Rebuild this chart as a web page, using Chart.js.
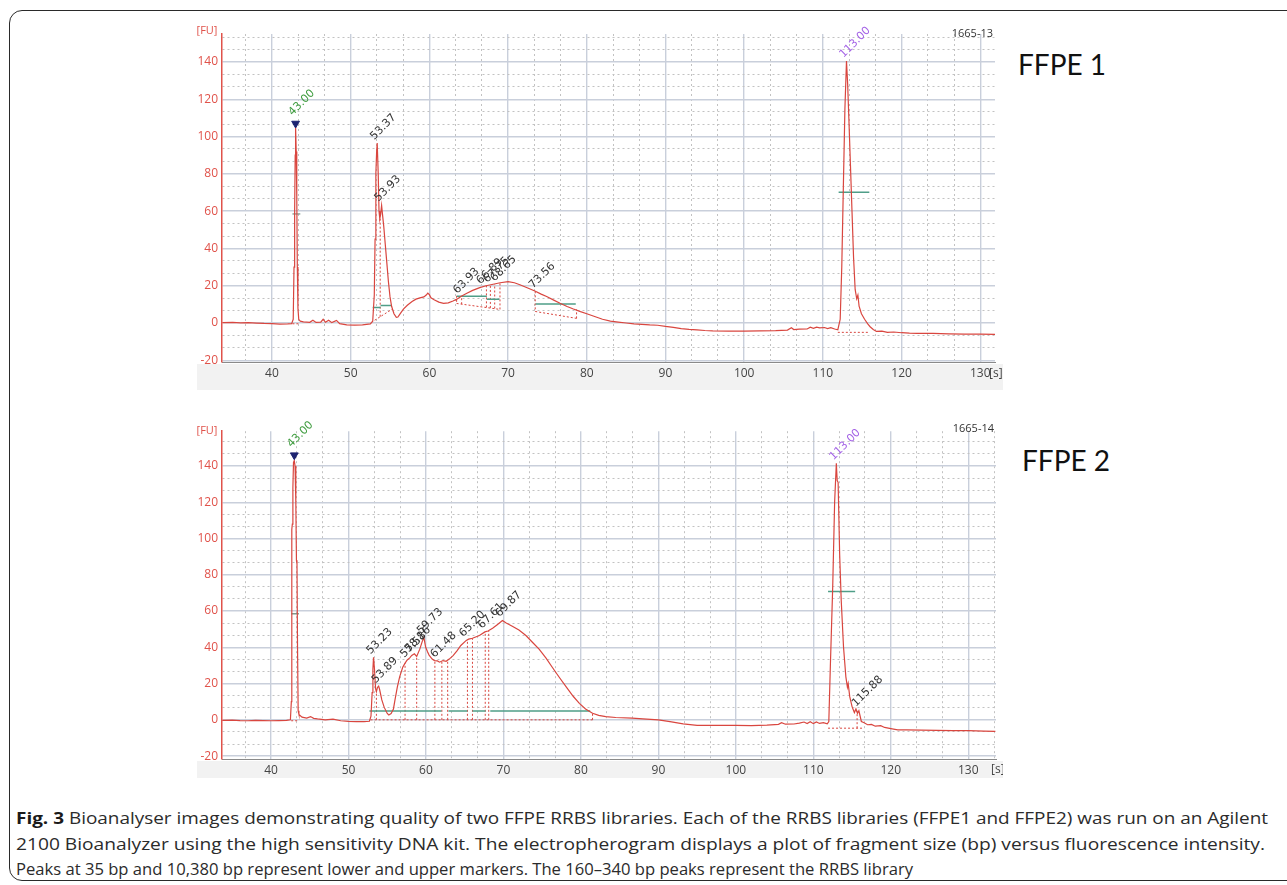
<!DOCTYPE html>
<html><head><meta charset="utf-8">
<script src="https://cdn.jsdelivr.net/npm/chart.js@4/dist/chart.umd.min.js"></script>
<style>
html,body{margin:0;padding:0;background:#fff;width:1287px;height:885px;overflow:hidden;font-family:"Open Sans",sans-serif;}
#frame{position:absolute;left:9px;top:10px;width:1330px;height:871px;border:1.5px solid #2a2a2a;border-radius:13px;box-sizing:border-box;}
.cw{position:absolute;}
#c1w{left:197px;top:22px;width:806px;height:368px;}
#c2w{left:197px;top:420px;width:806px;height:358px;}
.ffpe{position:absolute;font-family:Lato,"Open Sans",sans-serif;font-size:28px;color:#111;line-height:normal;white-space:nowrap;}
.cap{position:absolute;left:16px;font-family:"Open Sans",sans-serif;font-size:16px;line-height:20px;color:#2b2b2b;white-space:nowrap;transform-origin:0 50%;}
.cap b{color:#1a1a1a;}
</style></head>
<body>
<div id="frame"></div>
<div class="cw" id="c1w"><canvas id="c1" width="806" height="368"></canvas></div>
<div class="cw" id="c2w"><canvas id="c2" width="806" height="358"></canvas></div>
<div class="ffpe" style="left:1018px;top:47px;">FFPE 1</div>
<div class="ffpe" style="left:1022px;top:443px;">FFPE 2</div>
<div class="cap" id="cap1" data-w="1252" style="top:808px;"><b>Fig. 3</b> Bioanalyser images demonstrating quality of two FFPE RRBS libraries. Each of the RRBS libraries (FFPE1 and FFPE2) was run on an Agilent</div>
<div class="cap" id="cap2" data-w="1249" style="top:834px;">2100 Bioanalyzer using the high sensitivity DNA kit. The electropherogram displays a plot of fragment size (bp) versus fluorescence intensity.</div>
<div class="cap" id="cap3" data-w="897" style="top:859px;">Peaks at 35 bp and 10,380 bp represent lower and upper markers. The 160–340 bp peaks represent the RRBS library</div>
<script>
// ---------- DATA ----------
const xTickLabels = [40, 50, 60, 70, 80, 90, 100, 110, 120, 130];
const yTickLabels = [-20, 0, 20, 40, 60, 80, 100, 120, 140];

// FFPE 1 (1665-13) trace: time [s] and fluorescence [FU]
const ffpe1Time = [33.7,35,36,37,38,39,40,41,42,42.5,42.7,42.8,42.88,42.95,43.0,43.08,43.15,43.22,43.3,43.4,43.6,44,44.8,45.2,45.6,46.2,46.5,46.8,47.2,47.6,48.2,48.6,49.5,50.5,51.5,52.5,52.8,53.0,53.1,53.2,53.3,53.37,53.5,53.6,53.7,53.8,53.93,54.05,54.2,54.4,54.6,54.8,55.0,55.2,55.5,55.8,56.0,56.3,56.7,57.2,57.8,58.3,58.8,59.3,59.6,59.8,60.0,60.2,60.6,61.2,61.8,62.4,63.0,63.5,64.0,64.7,65.5,66.4,67.2,68.1,69.0,70.0,70.8,71.5,72.5,73.4,74.2,74.9,75.8,76.6,77.5,78.3,79.2,80.0,81,82,83,84,85,86,87,88,89,90,91,92,93,94,95,96,98,100,102,104,105.5,106,106.3,107,108,108.4,108.8,109.2,109.6,110.2,110.6,111,111.5,111.9,112.2,112.4,112.6,112.8,113.0,113.15,113.3,113.5,113.7,113.9,114.1,114.3,114.45,114.6,114.9,115.3,115.7,116.0,116.4,116.8,117.5,118.2,119,120,121,122,124,126,128,130,131.9];
const ffpe1Fu   = [0.2,0.3,0.1,0.2,0,-0.2,-0.3,-0.6,-0.5,-0.3,2,30,60,90,105,92,68,30,8,2,1,0.6,0.4,1.5,0.3,0.5,2,0.4,1.5,0.2,1.4,-0.3,-1,-1.1,-1,-0.5,1,15,45,80,92,96.5,80,60,56,58,63,58,52,42,32,22,14,9,5,3,3.2,5,7.5,9.5,11.5,12.8,13.5,14,15,16,15.2,13.5,12.5,11.2,10.5,10.8,11.8,12.8,14.2,15.8,17.5,19,20,20.8,21.6,22.2,21.6,20.5,18.8,17.2,15.5,14.2,12.3,10.6,8.9,7.5,6.1,5,3.5,2,1,0.5,0,-0.5,-0.7,-1,-1.2,-1.8,-2.3,-3,-3.4,-3.7,-4,-4.2,-4.3,-4.3,-4.2,-4.1,-3.8,-2.5,-3.5,-3.3,-3.2,-2.2,-2.8,-2.2,-2.6,-2.4,-3,-2.5,-3.2,-3.6,2,30,73,115,140.5,128,110,85,60,35,18,13,15,9,5,2,-0.5,-2,-3.5,-4.5,-4.3,-5,-4.8,-5.2,-5.4,-5.5,-5.6,-5.8,-5.9,-6,-6.1];

// FFPE 2 (1665-14) trace
const ffpe2Time = [33.7,35,36,37,38,39,40,41,42,42.5,42.62,42.68,42.75,42.82,42.9,43.0,43.1,43.2,43.28,43.35,43.42,43.5,43.6,44,44.6,45.1,45.5,46,47,48,49,50,51,52,52.7,52.9,53.05,53.15,53.23,53.35,53.5,53.6,53.75,53.89,54.0,54.3,54.6,55.0,55.2,55.5,55.8,56.0,56.3,56.6,57.0,57.3,57.58,57.9,58.16,58.5,58.8,59.2,59.5,59.73,59.96,60.2,60.4,60.8,61.1,61.48,61.75,62.2,62.6,63.0,63.5,64.0,64.5,65.2,65.5,66.0,66.9,67.61,68.0,68.6,69.2,69.87,70.3,71.2,72.0,72.9,73.8,74.6,75.5,76.3,77.2,78.1,79.0,79.8,80.6,81.5,82.3,83.2,84.5,86.6,88,90,91.5,93.2,95,97,100,102,104,105.5,105.9,106.4,107.5,108.2,108.8,109.2,109.6,110.0,110.4,110.8,111.3,111.8,112.0,112.2,112.5,112.75,112.97,113.08,113.2,113.4,113.6,113.9,114.2,114.4,114.5,114.7,115.0,115.3,115.5,115.7,115.88,116.2,116.5,117.0,117.5,118.0,118.7,119.2,120.0,120.9,122,124,126,128,130,132,133.5];
const ffpe2Fu   = [-0.3,-0.2,-0.4,-0.5,-0.3,-0.4,-0.5,-0.4,-0.3,0,10,105,108,128,142,143,140,120,88,86,40,5,3,1.5,1,1.8,0.8,0.5,0,0.4,-0.5,-0.8,-1,-1,-0.8,2,15,28,34.5,28,17,15.5,18,18.6,17,11,7,3.5,2.7,3.5,6,11,18,23.7,29,31.3,33,34.2,35.5,36.4,35,39,43,45.5,40,37.5,35.7,33.5,32.7,32.5,31.8,32.7,32.3,33.5,35.4,38,41,43.8,44.5,45,46.5,48.5,49,50.5,52.5,54.8,53.5,51.5,49.5,46.5,42.5,39,34,29,23.5,18.2,13,9.1,6,3.6,2.5,1.8,1.3,0.9,0.5,0,-1,-2.2,-3,-3.1,-3,-3.2,-2.9,-2.5,-1.6,-2.4,-2.3,-1.8,-1.2,-2,-1,-2.1,-1.2,-2,-1.6,-2.2,-1,30,73,120,141.5,132,131,91,66,40,23.7,18,20,12.8,7.3,4,6,3.6,5,-0.9,-1.5,-2.7,-2.5,-3.5,-3.2,-4.2,-4.8,-5.5,-5.5,-5.7,-5.8,-5.9,-6,-6.2,-6.4];

// Peak annotations
const peak1Times   = [43.00, 53.37, 53.93, 63.93, 66.89, 67.75, 68.65, 73.56, 113.00];
const peak1Heights = [110, 97, 64, 14.5, 19.6, 20.4, 21, 17.3, 141];
const peak1Labels  = ['43.00','53.37','53.93','63.93','66.89','67.75','68.65','73.56','113.00'];
const peak2Times   = [43.00, 53.23, 53.89, 57.58, 58.16, 59.73, 61.48, 65.20, 67.61, 69.87, 113.00, 115.88];
const peak2Heights = [149, 35, 19, 33, 36, 46, 33, 44.5, 49, 55.5, 142, 6];
const peak2Labels  = ['43.00','53.23','53.89','57.58','58.16','59.73','61.48','65.20','67.61','69.87','113.00','115.88'];

// Marker triangles (lower marker)
const marker1 = [{x: 43.0, y: 107}];
const marker2 = [{x: 43.0, y: 146}];

// Peak-width bars [x1,y1,x2,y2]
const width1 = [[52.8,8.3,53.8,8.3],[53.8,9.4,55.2,9.4],[63.5,14.3,67.3,14.3],[67.3,12.8,68.9,12.8],[73.5,10.2,78.6,10.2],[112.0,70.2,115.9,70.2]];
const width2 = [[52.7,4.9,62.0,4.9],[62.9,4.9,65.35,4.9],[66.0,4.9,67.7,4.9],[68.3,4.9,81.2,4.9],[111.9,70.8,115.4,70.8]];
const lower1 = [[42.6,58.5,43.6,58.5]];
const lower2 = [[42.6,58.5,43.6,58.5]];
// Integration baselines / borders [x1,y1,x2,y2]
const base1 = [[42.6,-0.4,43.6,-0.4],[53.05,1.5,55.3,7.5],[53.75,3.4,53.75,56],[63.46,14.6,63.46,10.5],[63.46,10.5,68.97,7.3],[64.1,10.1,64.1,14.3],[67.25,8.4,67.25,20.1],[67.75,8.1,67.75,20.5],[68.3,7.8,68.3,20.9],[68.97,7.3,68.97,21.5],[73.45,17,73.45,6.2],[73.45,6.2,78.7,2.5],[78.7,2.5,78.7,7.3],[111.9,-5,115.9,-5]];
const base2 = [[42.6,-0.5,43.6,-0.5],[52.85,0,81.5,0],[53.6,0,53.6,16],[57.3,0,57.3,31.3],[58.8,0,58.8,35],[61.15,0,61.15,32.7],[62.05,0,62.05,32.6],[62.8,0,62.8,32.4],[65.35,0,65.35,44],[66.0,0,66.0,45],[67.65,0,67.65,48.5],[68.1,0,68.1,49],[81.5,0,81.5,3.6],[111.9,-4.6,116.5,-4.6],[115.65,-4.6,115.65,5]];

// ---------- RENDER ----------
const TRACE = '#d9463f', AXIS_RED = '#e0524a', WIDTH_C = '#4f9e88', MAJOR = '#c9cfdb', MINOR = '#c2c2c2';
const near = (a, b) => Math.abs(a - b) < 1e-6;
const isMajor = (list, v) => list.some(m => near(m, v));
function gridVals(majors, step, min, max) {
  const out = [];
  for (let k = -60; k <= 90; k++) {
    const v = Math.round((majors[0] + k * step / 3) * 1e6) / 1e6;
    if (v > min + 1e-6 && v < max - 1e-6) out.push(v);
  }
  return out;
}
function segData(segs) {
  const d = [];
  segs.forEach(s => { d.push({x: s[0], y: s[1]}); d.push({x: s[2], y: s[3]}); d.push({x: s[2], y: null}); });
  return d;
}
const decor = {
  id: 'decor',
  beforeDraw(chart) {
    const ctx = chart.ctx, a = chart.chartArea;
    ctx.save();
    ctx.fillStyle = '#f2f2f2';
    ctx.fillRect(0, a.bottom + 2, chart.width, chart.height - a.bottom - 2);
    ctx.restore();
  },
  afterDraw(chart) {
    const o = chart.options.plugins.decor, ctx = chart.ctx, xs = chart.scales.x, ys = chart.scales.y;
    ctx.save();
    ctx.font = '11px "Open Sans"'; ctx.fillStyle = AXIS_RED; ctx.textAlign = 'center'; ctx.textBaseline = 'middle';
    ctx.fillText('[FU]', o.fu[0], o.fu[1]);
    ctx.font = '12px "Open Sans"'; ctx.fillStyle = '#444'; ctx.textAlign = 'left';
    ctx.fillText('[s]', o.s[0], o.s[1]);
    ctx.font = '11px "Open Sans"'; ctx.fillStyle = '#333'; ctx.textAlign = 'right';
    ctx.fillText(o.title, o.t[0], o.t[1]);
    ctx.font = '11px "DejaVu Sans"'; ctx.textAlign = 'left'; ctx.textBaseline = 'alphabetic';
    o.times.forEach((t, i) => {
      const px = xs.getPixelForValue(t), py = ys.getPixelForValue(o.heights[i]);
      const lab = o.labels[i];
      ctx.fillStyle = lab === '43.00' ? '#3e9c3e' : (lab === '113.00' ? '#a463e6' : '#333');
      ctx.save(); ctx.translate(px - 3, py - 2); ctx.rotate(-Math.PI / 4); ctx.fillText(lab, 0, 0); ctx.restore();
    });
    ctx.restore();
  }
};
function makeChart(id, cfg) {
  const segStyle = (data, color, dash, w) => ({data, borderColor: color, borderWidth: w, borderDash: dash, pointRadius: 0, spanGaps: false, tension: 0, fill: false});
  return new Chart(document.getElementById(id), {
    type: 'line',
    data: { datasets: [
      Object.assign(segStyle(cfg.time.map((t, i) => ({x: t, y: cfg.fu[i]})), TRACE, [], 1.2), {order: 1}),
      Object.assign(segStyle(segData(cfg.widths), WIDTH_C, [], 1.5), {order: 2}),
      Object.assign(segStyle(segData(cfg.lower), '#7f9a8e', [], 1.3), {order: 2}),
      Object.assign(segStyle(segData(cfg.base), TRACE, [2, 2], 1), {order: 3}),
      {data: cfg.marker, type: 'scatter', pointStyle: 'triangle', rotation: 180, pointRadius: 4.5, backgroundColor: '#1d2370', borderColor: '#1d2370', borderWidth: 1, order: 0}
    ]},
    options: {
      responsive: false, animation: false, devicePixelRatio: 1,
      layout: { padding: cfg.pad },
      plugins: { legend: {display: false}, tooltip: {enabled: false},
        decor: { fu: cfg.fuPos, s: cfg.sPos, t: cfg.tPos, title: cfg.title, times: cfg.peakT, heights: cfg.peakH, labels: cfg.peakL } },
      scales: {
        x: { type: 'linear', min: cfg.xmin, max: cfg.xmax,
          afterBuildTicks: s => { s.ticks = gridVals(xTickLabels, 10, cfg.xmin, cfg.xmax).map(v => ({value: v})); },
          afterFit: s => { s.height = cfg.xH; },
          grid: { drawTicks: false, color: c => (c.tick && !isMajor(xTickLabels, c.tick.value)) ? MINOR : MAJOR, lineWidth: c => (c.tick && !isMajor(xTickLabels, c.tick.value)) ? 1 : 1.4 },
          border: { color: '#8a8a8a', width: 1, dash: c => (c.tick && !isMajor(xTickLabels, c.tick.value)) ? [2, 3] : [] },
          ticks: { autoSkip: false, maxRotation: 0, padding: 4, color: '#444', font: {family: 'Open Sans', size: 12}, callback: v => isMajor(xTickLabels, v) ? String(Math.round(v)) : '' } },
        y: { type: 'linear', min: cfg.ymin, max: cfg.ymax,
          afterBuildTicks: s => { s.ticks = gridVals(yTickLabels, 20, cfg.ymin, cfg.ymax).map(v => ({value: v})); },
          afterFit: s => { s.width = 25; },
          grid: { drawTicks: false, color: c => (c.tick && !isMajor(yTickLabels, c.tick.value)) ? MINOR : MAJOR, lineWidth: c => (c.tick && !isMajor(yTickLabels, c.tick.value)) ? 1 : 1.4 },
          border: { color: AXIS_RED, width: 1.5, dash: c => (c.tick && !isMajor(yTickLabels, c.tick.value)) ? [2, 3] : [] },
          ticks: { autoSkip: false, padding: 4, color: AXIS_RED, font: {family: 'Open Sans', size: 12}, callback: v => isMajor(yTickLabels, v) ? String(Math.round(v)) : '' } }
      }
    },
    plugins: [decor]
  });
}
makeChart('c1', { time: ffpe1Time, fu: ffpe1Fu, widths: width1, lower: lower1, base: base1, marker: marker1,
  xmin: 33.65, xmax: 131.87, ymin: -20.9, ymax: 155, pad: {top: 12, right: 8, left: 0, bottom: 0}, xH: 28,
  fuPos: [10, 9], sPos: [792, 352], tPos: [796, 12], title: '1665-13', peakT: peak1Times, peakH: peak1Heights, peakL: peak1Labels });
makeChart('c2', { time: ffpe2Time, fu: ffpe2Fu, widths: width2, lower: lower2, base: base2, marker: marker2,
  xmin: 33.67, xmax: 133.58, ymin: -21.6, ymax: 159.2, pad: {top: 10, right: 7, left: 0, bottom: 0}, xH: 19,
  fuPos: [10, 11], sPos: [794, 350], tPos: [797, 9], title: '1665-14', peakT: peak2Times, peakH: peak2Heights, peakL: peak2Labels });

function fitCaps() {
  document.querySelectorAll('.cap').forEach(el => {
    el.style.transform = 'none';
    const w = el.getBoundingClientRect().width, target = +el.dataset.w;
    el.style.transform = 'scaleX(' + (target / w) + ')';
  });
}
fitCaps();
if (document.fonts && document.fonts.ready) document.fonts.ready.then(fitCaps);
</script>
</body></html>
